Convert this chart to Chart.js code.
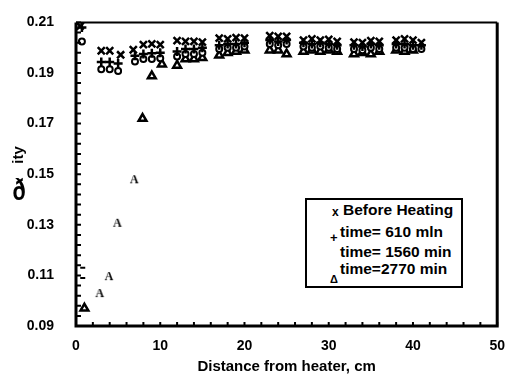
<!DOCTYPE html>
<html>
<head>
<meta charset="utf-8">
<script src="https://cdn.jsdelivr.net/npm/chart.js@4.4.1/dist/chart.umd.min.js"></script>
<style>
  body { margin: 0; background: #fff; }
  #wrap { position: relative; width: 509px; height: 374px; font-family: "Liberation Sans", Arial, sans-serif; font-weight: bold; color: #000; }
  #legend { position: absolute; left: 305px; top: 198px; width: 154px; height: 86px; border: 2px solid #000; background: #fff; font-size: 15.5px; }
  #legend div { position: absolute; white-space: nowrap; line-height: 16px; }
</style>
</head>
<body>
<div id="wrap">
  <canvas id="chart" width="509" height="374"></canvas>
  <div id="legend">
    <div style="left:25px; top:4px; font-size:12px;">x</div>
    <div style="left:36px; top:2px;">Before Heating</div>
    <div style="left:23px; top:30px; font-size:13px;">+</div>
    <div style="left:33px; top:24px;">time= 610 mln</div>
    <div style="left:33px; top:44px;">time= 1560 min</div>
    <div style="left:23px; top:71px; font-size:11px;">Δ</div>
    <div style="left:33px; top:61px;">time=2770 min</div>
  </div>
</div>
<script>
// Before Heating
const beforeX = [0.5, 3, 4, 5.3, 6.8, 8, 9, 10, 12, 13, 14, 15, 17, 18, 19, 20, 23, 24, 25, 27, 28, 29, 30, 31, 33, 34, 35, 36, 38, 39, 40, 41];
const beforeY = [0.2085, 0.1988, 0.1988, 0.1972, 0.1992, 0.2012, 0.2015, 0.2012, 0.2028, 0.2025, 0.2025, 0.2022, 0.2038, 0.2035, 0.2040, 0.2038, 0.2048, 0.2045, 0.2045, 0.2030, 0.2035, 0.2030, 0.2033, 0.2025, 0.2022, 0.2020, 0.2028, 0.2025, 0.2030, 0.2035, 0.2030, 0.2020];

// time = 610 min
const t610X = [0.7, 3, 4, 5, 7, 8, 9, 10, 12, 13, 14, 15, 17, 18, 19, 20, 23, 24, 25, 27, 28, 29, 30, 31, 33, 34, 35, 36, 38, 39, 40, 41];
const t610Y = [0.2080, 0.1943, 0.1943, 0.1938, 0.1968, 0.1975, 0.1978, 0.1980, 0.1985, 0.1995, 0.1995, 0.2000, 0.2010, 0.2015, 0.2015, 0.2020, 0.2030, 0.2025, 0.2030, 0.2020, 0.2015, 0.2020, 0.2015, 0.2010, 0.2010, 0.2005, 0.2015, 0.2010, 0.2015, 0.2015, 0.2010, 0.2010];

// time = 1560 min
const t1560X = [0.7, 3, 4, 5, 7, 8, 9, 10, 12, 13, 14, 15, 17, 18, 19, 20, 23, 24, 25, 27, 28, 29, 30, 31, 33, 34, 35, 36, 38, 39, 40, 41];
const t1560Y = [0.2025, 0.1915, 0.1915, 0.1908, 0.1945, 0.1955, 0.1955, 0.1958, 0.1965, 0.1975, 0.1975, 0.1980, 0.1995, 0.2000, 0.2000, 0.2005, 0.2015, 0.2010, 0.2015, 0.2005, 0.2000, 0.2005, 0.2000, 0.1995, 0.1995, 0.1990, 0.2000, 0.1995, 0.2000, 0.2000, 0.1995, 0.1995];

// time = 2770 min
const t2770X = [1, 2.8, 3.9, 4.9, 6.9, 7.9, 9, 10.2, 12, 13, 14, 15, 17, 18, 19, 20, 23, 24, 25, 27, 28, 29, 30, 31, 33, 34, 35, 36, 38, 39, 40];
const t2770Y = [0.0970, 0.1030, 0.1097, 0.1308, 0.1480, 0.1720, 0.1888, 0.1935, 0.1930, 0.1955, 0.1955, 0.1960, 0.1970, 0.1980, 0.1985, 0.1990, 0.1990, 0.1990, 0.1975, 0.1985, 0.1990, 0.1985, 0.1990, 0.1985, 0.1975, 0.1980, 0.1975, 0.1985, 0.1990, 0.1985, 0.1990];
const t2770Mark = ['tri', 'A', 'A', 'A', 'A'];

// stray dashes near the axis
const dashX = [0.8, 0.8];
const dashY = [0.113, 0.109];

const xTicks = [0, 10, 20, 30, 40, 50];
const yTicks = [0.09, 0.11, 0.13, 0.15, 0.17, 0.19, 0.21];

function pts(xs, ys) {
    return xs.map((x, i) => ({ x: x, y: ys[i] }));
}

// scanned "A" marks used for some triangle points
function letterMark(ch) {
    const c = document.createElement('canvas');
    c.width = 12; c.height = 12;
    const g = c.getContext('2d');
    g.font = 'bold 12px "Liberation Serif"';
    g.textAlign = 'center';
    g.textBaseline = 'middle';
    g.fillStyle = '#000';
    g.fillText(ch, 6, 6.5);
    return c;
}
const aMark = letterMark('A');
const triStyles = t2770X.map((x, i) => t2770Mark[i] === 'A' ? aMark : 'triangle');

function isMajor(v, list) {
    return list.some(t => Math.abs(v - t) < 1e-6);
}

// frame, inward ticks and the y axis title
const frameTicks = {
    id: 'frameTicks',
    afterDraw(chart) {
        const { ctx, chartArea: a, scales: { x, y } } = chart;
        ctx.save();
        ctx.strokeStyle = '#000';
        ctx.lineWidth = 2;
        ctx.beginPath();
        x.ticks.forEach(t => {
            const px = x.getPixelForValue(t.value);
            ctx.moveTo(px, a.bottom);
            ctx.lineTo(px, a.bottom - 4);
        });
        y.ticks.forEach(t => {
            const py = y.getPixelForValue(t.value);
            ctx.moveTo(a.left, py);
            ctx.lineTo(a.left + 5, py);
        });
        ctx.stroke();
        ctx.lineWidth = 3;
        ctx.beginPath();
        ctx.moveTo(a.left, a.top);
        ctx.lineTo(a.left, a.bottom);
        ctx.lineTo(a.right, a.bottom);
        ctx.lineTo(a.right, a.top);
        ctx.stroke();
        ctx.lineWidth = 2;
        ctx.beginPath();
        ctx.moveTo(a.left, a.top);
        ctx.lineTo(a.right, a.top);
        ctx.stroke();

        ctx.fillStyle = '#000';
        ctx.textAlign = 'center';
        ctx.textBaseline = 'middle';
        ctx.save();
        ctx.translate(19, 155);
        ctx.rotate(-Math.PI / 2);
        ctx.font = 'bold 15px "Liberation Sans"';
        ctx.fillText('ity', 0, 0);
        ctx.restore();
        ctx.save();
        ctx.translate(19, 192);
        ctx.scale(0.72, 1);
        ctx.font = 'bold 30px "Liberation Sans"';
        ctx.fillText('ð', 0, 0);
        ctx.restore();
        ctx.restore();
    }
};

const ctx = document.getElementById('chart').getContext('2d');

new Chart(ctx, {
    type: 'scatter',
    data: {
        datasets: [
            {
                label: 'Before Heating',
                data: pts(beforeX, beforeY),
                pointStyle: 'crossRot',
                pointRadius: 5,
                borderColor: '#000',
                borderWidth: 2.5
            },
            {
                label: 'time= 610 mln',
                data: pts(t610X, t610Y),
                pointStyle: 'cross',
                pointRadius: 4.5,
                borderColor: '#000',
                borderWidth: 2.5
            },
            {
                label: 'time= 1560 min',
                data: pts(t1560X, t1560Y),
                pointStyle: 'circle',
                pointRadius: 3,
                backgroundColor: '#fff',
                borderColor: '#000',
                borderWidth: 2
            },
            {
                label: 'time=2770 min',
                data: pts(t2770X, t2770Y),
                pointStyle: triStyles,
                pointRadius: 4.5,
                backgroundColor: '#fff',
                borderColor: '#000',
                borderWidth: 2.5
            },
            {
                label: '',
                data: pts(dashX, dashY),
                pointStyle: 'line',
                pointRadius: 2.5,
                borderColor: '#000',
                borderWidth: 2
            }
        ]
    },
    options: {
        responsive: false,
        animation: false,
        layout: {
            padding: { top: 20, right: 10, left: 0, bottom: 0 }
        },
        plugins: {
            legend: { display: false },
            tooltip: { enabled: false }
        },
        scales: {
            x: {
                type: 'linear',
                min: 0,
                max: 50,
                grid: { display: false },
                border: { display: false },
                ticks: {
                    stepSize: 2,
                    autoSkip: false,
                    maxRotation: 0,
                    padding: 4,
                    color: '#000',
                    font: { family: 'Liberation Sans', size: 14, weight: 'bold' },
                    callback: v => isMajor(v, xTicks) ? v : ''
                },
                title: {
                    display: true,
                    text: 'Distance from heater, cm',
                    color: '#000',
                    padding: { top: 0, bottom: -2 },
                    font: { family: 'Liberation Sans', size: 15, weight: 'bold' }
                },
                afterFit: s => { s.height = 48; }
            },
            y: {
                min: 0.09,
                max: 0.21,
                grid: { display: false },
                border: { display: false },
                ticks: {
                    stepSize: 0.004,
                    autoSkip: false,
                    padding: 14,
                    color: '#000',
                    font: { family: 'Liberation Sans', size: 14, weight: 'bold' },
                    callback: v => isMajor(v, yTicks) ? v.toFixed(2) : ''
                },
                afterFit: s => { s.width = 76; }
            }
        }
    },
    plugins: [frameTicks]
});
</script>
</body>
</html>
